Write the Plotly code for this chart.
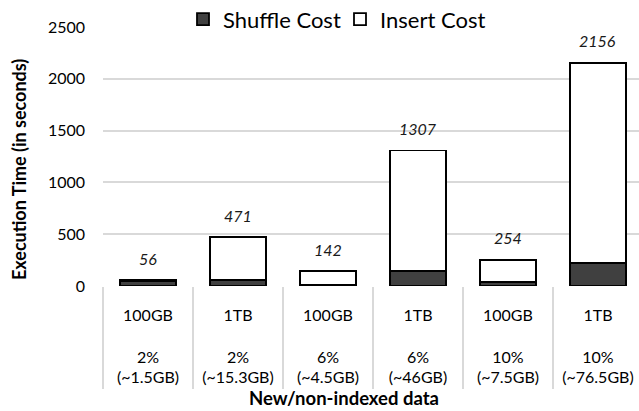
import plotly.graph_objects as go

categories = [
    "100GB<br><br>2%<br>(~1.5GB)",
    "1TB<br><br>2%<br>(~15.3GB)",
    "100GB<br><br>6%<br>(~4.5GB)",
    "1TB<br><br>6%<br>(~46GB)",
    "100GB<br><br>10%<br>(~7.5GB)",
    "1TB<br><br>10%<br>(~76.5GB)",
]
totals = [56, 471, 142, 1307, 254, 2156]
shuffle_cost = [46, 60, 12, 145, 35, 220]
insert_cost = [t - s for t, s in zip(totals, shuffle_cost)]
y_ticks = [0, 500, 1000, 1500, 2000, 2500]

FONT = "Lato"
W, H = 639, 411
ML, MR, MT, MB = 103, 0, 27, 125

fig = go.Figure()
fig.add_trace(go.Bar(
    name="Shuffle Cost", x=categories, y=shuffle_cost,
    marker=dict(color="#404040", line=dict(color="#000000", width=1.8)),
    width=0.63,
))
fig.add_trace(go.Bar(
    name="Insert Cost", x=categories, y=insert_cost,
    marker=dict(color="#ffffff", line=dict(color="#000000", width=1.8)),
    width=0.63,
))

for c, t in zip(categories, totals):
    fig.add_annotation(x=c, y=t, text=f"<i>{t}</i>", showarrow=False,
                       yshift=22, font=dict(family=FONT, size=16, color="#1a1a1a"))

# divider ticks between categories
bounds = [i - 0.5 for i in range(len(categories))]

fig.update_layout(
    width=W, height=H,
    margin=dict(l=ML, r=MR, t=MT, b=MB, autoexpand=False),
    paper_bgcolor="white", plot_bgcolor="white",
    barmode="stack",
    font=dict(family=FONT, size=16, color="#000000"),
    showlegend=True,
    legend=dict(orientation="h", x=(183 - ML) / (W - ML - MR), xanchor="left",
                y=1.03, yanchor="middle",
                bgcolor="white", font=dict(family=FONT, size=22, color="#000"),
                traceorder="normal", itemwidth=30, entrywidth=112, entrywidthmode="pixels"),
    xaxis=dict(type="category", range=[-0.5, 5.456], showgrid=False, automargin=False,
               showline=False, ticks="", tickfont=dict(family=FONT, size=16),
               ticklabelstandoff=18, zeroline=False),
    xaxis2=dict(overlaying="x", side="bottom", range=[-0.5, 5.456], automargin=False,
                tickmode="array", tickvals=bounds, showticklabels=False,
                ticks="outside", ticklen=102, tickwidth=2, tickcolor="#d9d9d9",
                showgrid=False, showline=False, zeroline=False),
    yaxis=dict(range=[0, 2500], tickvals=y_ticks, showgrid=True, automargin=False,
               gridcolor="#d9d9d9", gridwidth=2, zeroline=False,
               showline=False, ticks="", ticklabelstandoff=17,
               tickfont=dict(family=FONT, size=16)),
)
# invisible trace to activate xaxis2
fig.add_trace(go.Scatter(x=[0], y=[0], xaxis="x2", mode="markers",
                         marker=dict(opacity=0), showlegend=False, hoverinfo="skip"))

fig.add_annotation(xref="paper", yref="paper", x=(344 - ML) / (W - ML - MR),
                   y=-(398 - (H - MB)) / (H - MT - MB), yanchor="middle",
                   text="<b>New/non-indexed data</b>", showarrow=False,
                   font=dict(family=FONT, size=18.5))
fig.add_annotation(xref="paper", yref="paper", x=-(ML - 19) / (W - ML - MR), xanchor="center",
                   y=1 - (170 - MT) / (H - MT - MB), yanchor="middle", textangle=-90,
                   text="<b>Execution Time (in seconds)</b>", showarrow=False,
                   font=dict(family=FONT, size=18))

fig.write_html("out.html", config={"displayModeBar": False},
               post_script="document.body.style.margin='0';document.body.style.overflow='hidden';")
